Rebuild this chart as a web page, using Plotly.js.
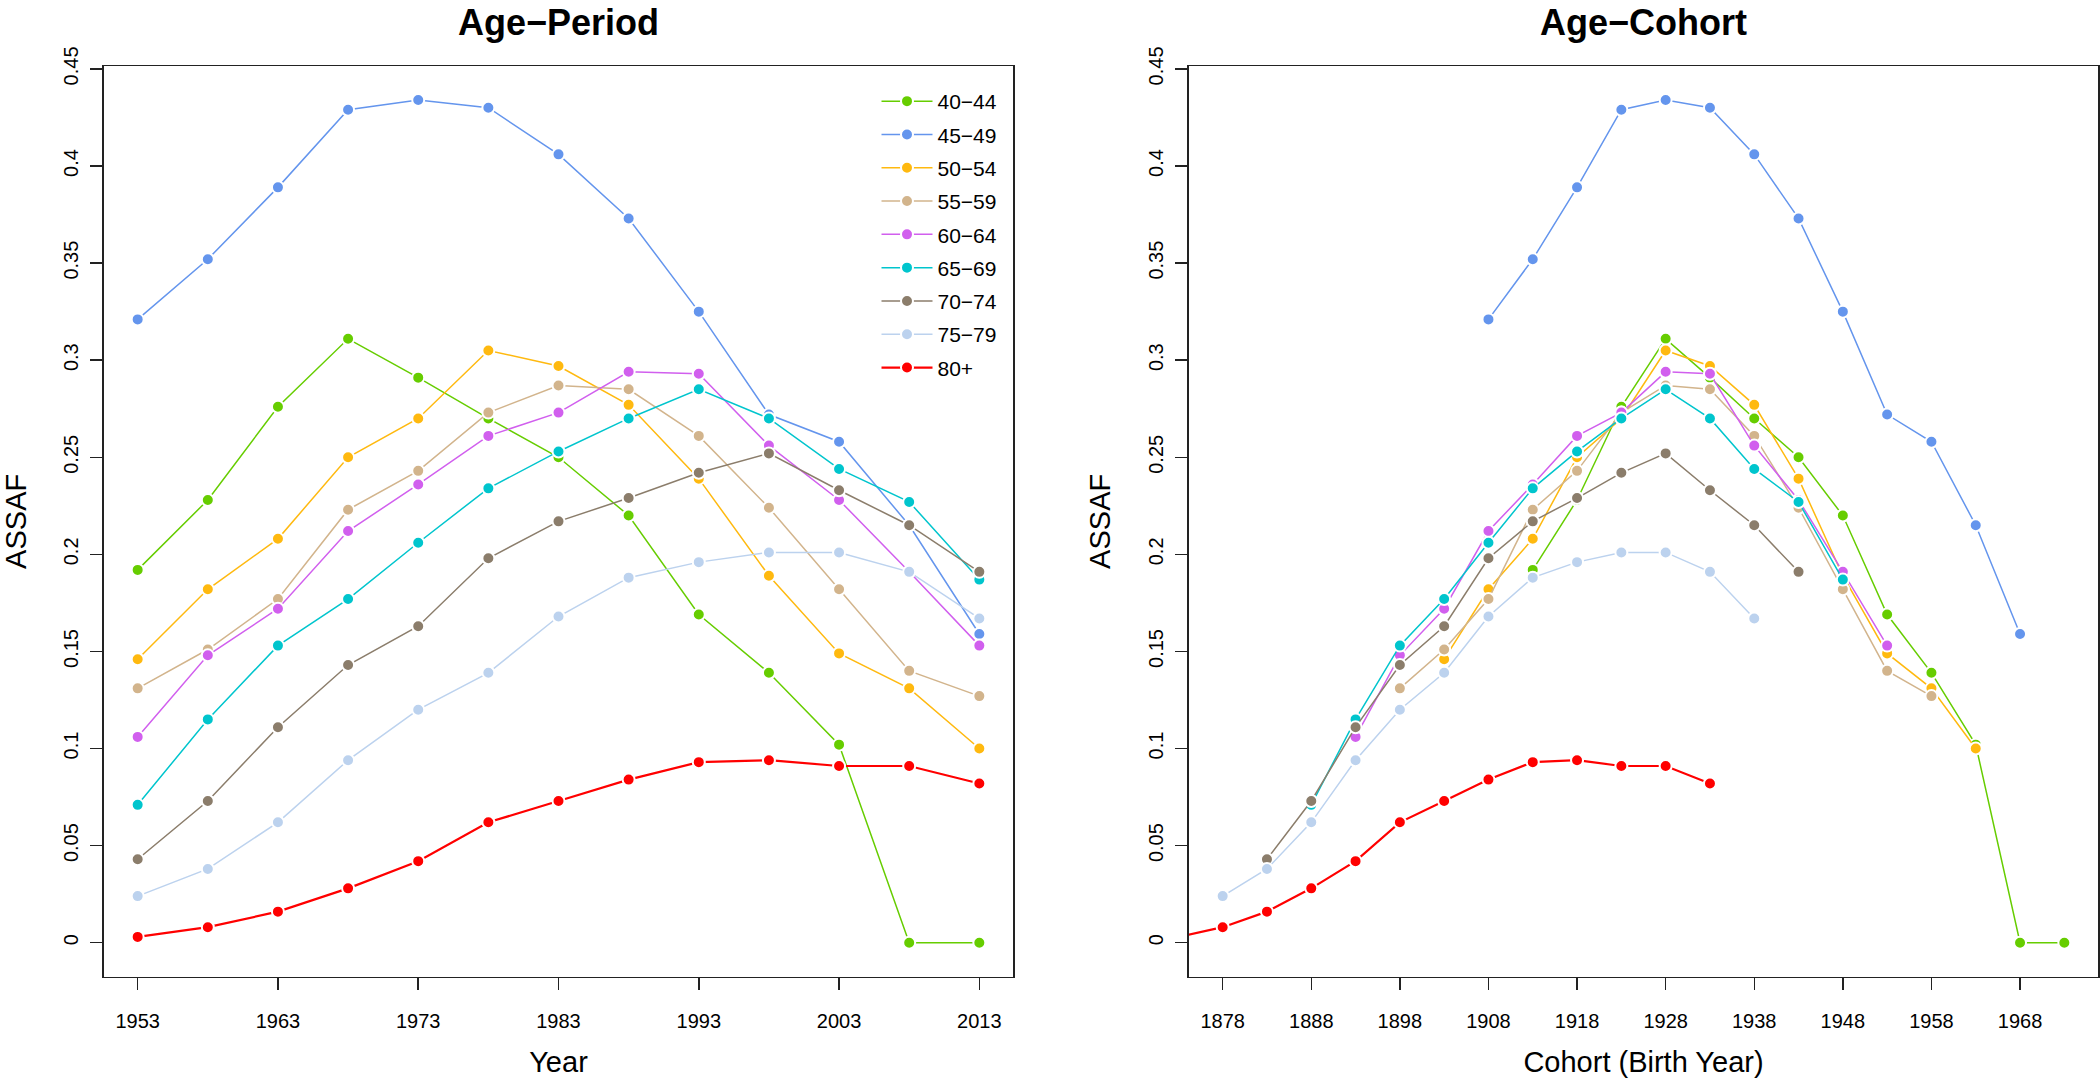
<!DOCTYPE html>
<html>
<head>
<meta charset="utf-8">
<script src="https://cdn.plot.ly/plotly-3.0.1.min.js"></script>
<style>html,body{margin:0;padding:0;background:#fff;}#chart{width:2100px;height:1079px;}</style>
</head>
<body>
<div id="chart"></div>
<script>
// ---- data ----
const periods = [1953, 1958, 1963, 1968, 1973, 1978, 1983, 1988, 1993, 1998, 2003, 2008, 2013];
const ageGroups = ["40−44", "45−49", "50−54", "55−59", "60−64", "65−69", "70−74", "75−79", "80+"];
const ageLower = [40, 45, 50, 55, 60, 65, 70, 75, 80];
const a40_44 = [0.192, 0.228, 0.276, 0.311, 0.291, 0.270, 0.250, 0.220, 0.169, 0.139, 0.102, 0.000, 0.000];
const a45_49 = [0.321, 0.352, 0.389, 0.429, 0.434, 0.430, 0.406, 0.373, 0.325, 0.272, 0.258, 0.215, 0.159];
const a50_54 = [0.146, 0.182, 0.208, 0.250, 0.270, 0.305, 0.297, 0.277, 0.239, 0.189, 0.149, 0.131, 0.100];
const a55_59 = [0.131, 0.151, 0.177, 0.223, 0.243, 0.273, 0.287, 0.285, 0.261, 0.224, 0.182, 0.140, 0.127];
const a60_64 = [0.106, 0.148, 0.172, 0.212, 0.236, 0.261, 0.273, 0.294, 0.293, 0.256, 0.228, 0.191, 0.153];
const a65_69 = [0.071, 0.115, 0.153, 0.177, 0.206, 0.234, 0.253, 0.270, 0.285, 0.270, 0.244, 0.227, 0.187];
const a70_74 = [0.043, 0.073, 0.111, 0.143, 0.163, 0.198, 0.217, 0.229, 0.242, 0.252, 0.233, 0.215, 0.191];
const a75_79 = [0.024, 0.038, 0.062, 0.094, 0.120, 0.139, 0.168, 0.188, 0.196, 0.201, 0.201, 0.191, 0.167];
const a80p   = [0.003, 0.008, 0.016, 0.028, 0.042, 0.062, 0.073, 0.084, 0.093, 0.094, 0.091, 0.091, 0.082];
const seriesValues = [a40_44, a45_49, a50_54, a55_59, a60_64, a65_69, a70_74, a75_79, a80p];
const periodTicks = [1953, 1963, 1973, 1983, 1993, 2003, 2013];
const cohortTicks = [1878, 1888, 1898, 1908, 1918, 1928, 1938, 1948, 1958, 1968];
const yTicks = [0, 0.05, 0.1, 0.15, 0.2, 0.25, 0.3, 0.35, 0.4, 0.45];

// ---- styles ----
const colors = ["#66CD00", "#6495ED", "#FFB90F", "#D2B48C", "#D15FEE", "#00C5CD", "#8B7D6B", "#BCD2EE", "#FF0000"];
const lineWidths = [1.5, 1.5, 1.5, 1.5, 1.5, 1.5, 1.5, 1.5, 2.2];
const FONT = "'Liberation Sans', Arial, Helvetica, sans-serif";

const traces = [];
ageGroups.forEach((g, i) => {
  traces.push({
    type: "scatter", mode: "lines+markers", name: g,
    x: periods, y: seriesValues[i], xaxis: "x", yaxis: "y",
    line: {color: colors[i], width: lineWidths[i]},
    marker: {color: colors[i], size: 12, line: {color: "#ffffff", width: 2}},
    legendgroup: g, showlegend: true, cliponaxis: true
  });
});
ageGroups.forEach((g, i) => {
  traces.push({
    type: "scatter", mode: "lines+markers", name: g,
    x: periods.map(p => p - ageLower[i]), y: seriesValues[i], xaxis: "x2", yaxis: "y2",
    line: {color: colors[i], width: lineWidths[i]},
    marker: {color: colors[i], size: 12, line: {color: "#ffffff", width: 2}},
    legendgroup: g, showlegend: false, cliponaxis: true
  });
});

const axisCommon = {
  showline: true, mirror: true, linecolor: "#222", linewidth: 1.6,
  ticks: "outside", ticklen: 12, tickwidth: 1.5, tickcolor: "#222",
  showgrid: false, zeroline: false,
  tickfont: {family: FONT, size: 20, color: "#000"}
};
const yDomain = [1 - 976.5 / 1079, 1 - 66.2 / 1079];

const layout = {
  width: 2100, height: 1079,
  margin: {l: 0, r: 0, t: 0, b: 0},
  paper_bgcolor: "#fff", plot_bgcolor: "#fff",
  font: {family: FONT, color: "#000"},
  xaxis: Object.assign({}, axisCommon, {
    domain: [104 / 2100, 1013 / 2100], range: [1950.6, 2015.4],
    tickmode: "array", tickvals: periodTicks, ticktext: periodTicks.map(String),
    ticklabelstandoff: 14,
    title: {text: "Year", font: {family: FONT, size: 29}, standoff: 20},
    anchor: "y"
  }),
  yaxis: Object.assign({}, axisCommon, {
    domain: yDomain, range: [-0.0174, 0.4514],
    tickmode: "array", tickvals: yTicks, ticktext: yTicks.map(String),
    tickangle: -90, ticklabelstandoff: 4,
    title: {text: "ASSAF", font: {family: FONT, size: 29}, standoff: 26},
    anchor: "x"
  }),
  xaxis2: Object.assign({}, axisCommon, {
    domain: [1189 / 2100, 2098 / 2100], range: [1874.2, 1976.8],
    tickmode: "array", tickvals: cohortTicks, ticktext: cohortTicks.map(String),
    ticklabelstandoff: 14,
    title: {text: "Cohort (Birth Year)", font: {family: FONT, size: 29}, standoff: 20},
    anchor: "y2"
  }),
  yaxis2: Object.assign({}, axisCommon, {
    domain: yDomain, range: [-0.0174, 0.4514],
    tickmode: "array", tickvals: yTicks, ticktext: yTicks.map(String),
    tickangle: -90, ticklabelstandoff: 4,
    title: {text: "ASSAF", font: {family: FONT, size: 29}, standoff: 26},
    anchor: "x2"
  }),
  showlegend: true,
  legend: {
    x: 1013 / 2100 - 0.005, xanchor: "right", y: 1 - 81 / 1079, yanchor: "top",
    bgcolor: "rgba(0,0,0,0)", borderwidth: 0,
    font: {family: FONT, size: 21, color: "#000"},
    traceorder: "grouped", tracegroupgap: 3, itemwidth: 51
  },
  annotations: [
    {text: "<b>Age−Period</b>", xref: "paper", yref: "paper", x: (104 + 1013) / 2 / 2100, y: 1,
     xanchor: "center", yanchor: "top", showarrow: false, font: {family: FONT, size: 36, color: "#000"}},
    {text: "<b>Age−Cohort</b>", xref: "paper", yref: "paper", x: (1189 + 2098) / 2 / 2100, y: 1,
     xanchor: "center", yanchor: "top", showarrow: false, font: {family: FONT, size: 36, color: "#000"}}
  ]
};

Plotly.newPlot("chart", traces, layout, {displayModeBar: false, staticPlot: true});
</script>
</body>
</html>
